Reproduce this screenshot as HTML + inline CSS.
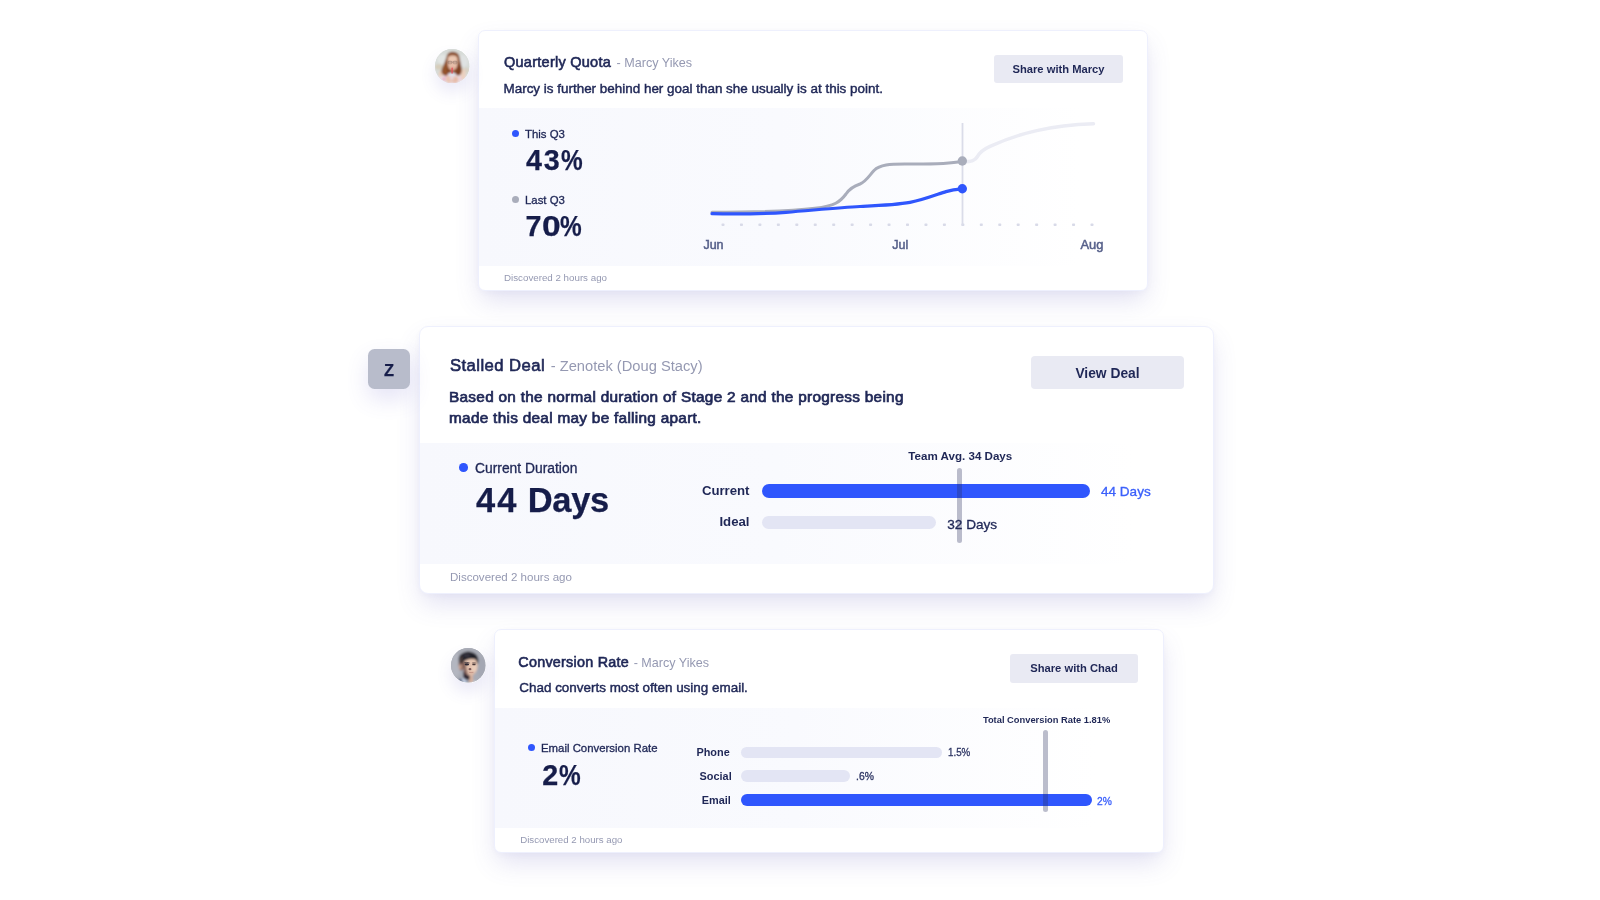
<!DOCTYPE html>
<html>
<head>
<meta charset="utf-8">
<title>Insights</title>
<style>
*{box-sizing:border-box;margin:0;padding:0}
html,body{width:1600px;height:900px;background:#fff;overflow:hidden;font-family:"Liberation Sans",sans-serif}
head,head *{font-family:"Liberation Sans",sans-serif}
body{font-family:"Liberation Sans",sans-serif;color:#1f2756;position:relative}
#stage{position:absolute;left:0;top:0;width:1600px;height:900px;will-change:transform}
.abs{position:absolute}
.card{position:absolute;background:#fff;border:1px solid #eef0fd;box-shadow:0 12px 26px -3px rgba(94,88,184,.185),0 2px 8px rgba(96,90,186,.04)}
.t{position:absolute;white-space:nowrap;line-height:1}
.b{font-weight:bold}
.semi{-webkit-text-stroke:.62px currentColor}
.semi2{-webkit-text-stroke:.5px currentColor}
.semi3{-webkit-text-stroke:.72px currentColor}
.med{-webkit-text-stroke:.45px currentColor}
.thin{-webkit-text-stroke:.15px currentColor}
.lbl{-webkit-text-stroke:.32px currentColor}
.hv{-webkit-text-stroke:.25px currentColor}
.btn{position:absolute;background:#e9eaf3;border-radius:3px;font-weight:bold;text-align:center;white-space:nowrap}
.dot{border-radius:50%}
.bar{border-radius:10px}
.blue{background:#2f56fd}
.light{background:#e3e5f4}
.vline{background:rgba(38,44,90,.31);border-radius:3px}
</style>
</head>
<body>
<div id="stage">
<!-- CARD 1 -->
<div class="card" style="left:478px;top:30px;width:670px;height:261px;border-radius:7px"></div>
<div class="abs " style="left:479px;top:108px;width:668px;height:158px;background:linear-gradient(90deg,#f7f8fd 0%,#f9fafe 45%,#ffffff 90%)"></div>
<div class="abs" style="left:435.3px;top:48.9px;width:34.4px;height:34.4px;border-radius:50%;box-shadow:0 9px 16px rgba(96,86,196,.13)"></div>
<svg class="abs" style="left:435.3px;top:48.9px" width="34.4" height="34.4" viewBox="0 0 100 100">
<defs>
<clipPath id="a1c"><circle cx="50" cy="50" r="50"/></clipPath>
<filter id="a1b" x="-10%" y="-10%" width="120%" height="120%"><feGaussianBlur stdDeviation="2.5"/></filter>
<filter id="a1s" x="-10%" y="-10%" width="120%" height="120%"><feGaussianBlur stdDeviation="1.6"/></filter>
</defs>
<g clip-path="url(#a1c)">
<rect width="100" height="100" fill="#d7dbd8"/>
<g filter="url(#a1b)">
<rect x="-5" y="-5" width="110" height="110" fill="#d7dbd8"/>
<ellipse cx="22" cy="30" rx="16" ry="14" fill="#e2e5e3"/>
<ellipse cx="82" cy="35" rx="14" ry="18" fill="#dfe2e2"/>
<ellipse cx="12" cy="52" rx="12" ry="8" fill="#d6ccb9"/>
<ellipse cx="90" cy="62" rx="10" ry="8" fill="#d9d2c4"/>
<!-- shirt / lower area -->
<path d="M8 78 Q25 70 50 72 Q78 70 94 80 L94 105 L8 105Z" fill="#ecdfe4"/>
<ellipse cx="26" cy="87" rx="4" ry="5" fill="#e6a0c2"/>
<ellipse cx="34" cy="80" rx="4" ry="3" fill="#eab0cc"/>
<ellipse cx="74" cy="86" rx="3" ry="4" fill="#ecc0d3"/>
<!-- right arm -->
<ellipse cx="82" cy="74" rx="7" ry="15" fill="#ecd0bf"/>
<ellipse cx="17" cy="72" rx="6" ry="9" fill="#e9cdb8"/>
<!-- hair -->
<path d="M34 22 Q36 8 52 8 Q69 9 71 24 Q74 40 77 52 Q81 66 72 76 Q62 80 58 70 L42 70 Q36 80 27 77 Q16 70 20 58 Q26 44 30 34Z" fill="#84451f"/>
<path d="M30 40 Q24 55 23 66 Q28 76 36 74 Q32 60 36 44Z" fill="#96552f"/>
<path d="M68 40 Q74 56 74 68 Q68 76 62 72 Q68 58 64 44Z" fill="#7a3f24"/>
<!-- face -->
<path d="M37 30 Q37 18 51 18 Q66 18 66 31 Q67 48 61 57 Q56 63 51 63 Q45 63 41 57 Q36 48 37 30Z" fill="#e7c0aa"/>
<ellipse cx="51" cy="28" rx="12" ry="7" fill="#ecc9b4"/>
<ellipse cx="51" cy="56" rx="6" ry="3.5" fill="#d99a8c"/>
<ellipse cx="44" cy="39.5" rx="4.5" ry="2.2" fill="#b98d7c"/><ellipse cx="58.5" cy="39.5" rx="4.5" ry="2.2" fill="#b98d7c"/><path d="M36 16 Q50 10 68 18 Q60 14 52 14 Q42 14 36 16Z" fill="#a86843"/>
<!-- cup lid -->
<ellipse cx="49" cy="74" rx="11" ry="6" fill="#dfe4f0"/>
<!-- hands -->
<ellipse cx="41" cy="88" rx="10" ry="10" fill="#e9c3b0"/>
<ellipse cx="58" cy="89" rx="10" ry="10" fill="#e6bba8"/>
<ellipse cx="49" cy="84" rx="6" ry="6" fill="#e8d6da"/>
</g>
<g filter="url(#a1s)">
<!-- glasses -->
<path d="M37 38 H65" stroke="#7a6560" stroke-width="1.3" opacity=".8" fill="none"/>
<rect x="38" y="35.5" width="11" height="7.5" rx="2.5" fill="none" stroke="#7a6560" stroke-width="1.2" opacity=".8"/>
<rect x="53" y="35.5" width="11" height="7.5" rx="2.5" fill="none" stroke="#7a6560" stroke-width="1.2" opacity=".8"/>
<!-- straw -->
<path d="M49.8 55.5 L49.6 70" stroke="#e9444f" stroke-width="3.3" stroke-linecap="round"/>
</g>
</g>
</svg>

<div class="t semi" style="top:54.73px;font-size:14.5px;left:504.00px;letter-spacing:.26px;">Quarterly Quota</div>
<div class="t " style="top:56.63px;font-size:12.6px;left:616.60px;color:#9599b2;">- Marcy Yikes</div>
<div class="t med" style="top:81.71px;font-size:13.45px;left:503.50px;">Marcy is further behind her goal than she usually is at this point.</div>
<div class="btn" style="left:994px;top:55px;width:129px;height:28px;font-size:11.2px;line-height:28px">Share with Marcy</div>
<div class="abs dot" style="left:511.7px;top:129.5px;width:7.3px;height:7.3px;background:#2f56fd"></div>
<div class="t lbl" style="top:128.65px;font-size:11.4px;left:525.00px;">This Q3</div>
<div class="t b hv" style="top:146.41px;font-size:28.7px;left:526.00px;color:#161d4a;"><span style="letter-spacing:1.9px">4</span><span style="letter-spacing:1.4px">3</span><span style="display:inline-block;transform:scaleX(.85);transform-origin:0 50%;margin-left:0px">%</span></div>
<div class="abs dot" style="left:511.7px;top:195.5px;width:7.3px;height:7.3px;background:#a9adbb"></div>
<div class="t lbl" style="top:194.85px;font-size:11.4px;left:525.00px;">Last Q3</div>
<div class="t b hv" style="top:211.71px;font-size:28.7px;left:525.60px;color:#161d4a;">7<span style="display:inline-block;transform:scaleX(1.17);transform-origin:0 50%">0</span><span style="display:inline-block;transform:scaleX(.85);transform-origin:0 50%;margin-left:2.7px">%</span></div>
<svg class="abs" style="left:690px;top:110px" width="440" height="160" viewBox="690 110 440 160">
<g fill="#d8dae8"><rect x="721.50" y="223.4" width="3" height="2.5" rx=".7"/><rect x="739.95" y="223.4" width="3" height="2.5" rx=".7"/><rect x="758.40" y="223.4" width="3" height="2.5" rx=".7"/><rect x="776.85" y="223.4" width="3" height="2.5" rx=".7"/><rect x="795.30" y="223.4" width="3" height="2.5" rx=".7"/><rect x="813.75" y="223.4" width="3" height="2.5" rx=".7"/><rect x="832.20" y="223.4" width="3" height="2.5" rx=".7"/><rect x="850.65" y="223.4" width="3" height="2.5" rx=".7"/><rect x="869.10" y="223.4" width="3" height="2.5" rx=".7"/><rect x="887.55" y="223.4" width="3" height="2.5" rx=".7"/><rect x="906.00" y="223.4" width="3" height="2.5" rx=".7"/><rect x="924.45" y="223.4" width="3" height="2.5" rx=".7"/><rect x="942.90" y="223.4" width="3" height="2.5" rx=".7"/><rect x="961.35" y="223.4" width="3" height="2.5" rx=".7"/><rect x="979.80" y="223.4" width="3" height="2.5" rx=".7"/><rect x="998.25" y="223.4" width="3" height="2.5" rx=".7"/><rect x="1016.70" y="223.4" width="3" height="2.5" rx=".7"/><rect x="1035.15" y="223.4" width="3" height="2.5" rx=".7"/><rect x="1053.60" y="223.4" width="3" height="2.5" rx=".7"/><rect x="1072.05" y="223.4" width="3" height="2.5" rx=".7"/><rect x="1090.50" y="223.4" width="3" height="2.5" rx=".7"/></g>
<line x1="962.5" y1="123" x2="962.5" y2="225.5" stroke="#dadce9" stroke-width="1.8"/>
<path d="M963 162 C972 161.5 975 160.5 977.5 156.5 C980 151.5 984 149 990 146.3 C1020 133 1050 125.2 1093.5 123.8" fill="none" stroke="#ebecf4" stroke-width="3.5" stroke-linecap="round"/>
<path d="M712 212.2 C750 212.2 790 211.4 815 208.3 C835 206 840 202 846 194 C850 188 854 186 860 184 C866 181.5 869 176 874 170.5 C880 164.5 890 164 905 164 C925 164 945 164.5 962 161.5" fill="none" stroke="#a9adbb" stroke-width="3" stroke-linecap="round"/>
<path d="M712 213.7 C745 214.2 765 213.8 786 212.3 C815 210 840 207.5 860 206.5 C885 205.3 897 204.8 910 202.4 C925 199.5 938 194 946 191.6 C952 189.8 957 189.2 962 188.8" fill="none" stroke="#2f56fd" stroke-width="3.2" stroke-linecap="round"/>
<circle cx="962.3" cy="161" r="4.7" fill="#a9adbb"/>
<circle cx="962.3" cy="188.7" r="4.7" fill="#2f56fd"/>
</svg>
<div class="t semi2" style="top:238.92px;font-size:12.5px;left:703.40px;color:#56608a;">Jun</div>
<div class="t semi2" style="top:238.92px;font-size:12.5px;left:892.20px;color:#56608a;">Jul</div>
<div class="t semi2" style="top:238.58px;font-size:12.9px;left:1080.40px;color:#56608a;">Aug</div>
<div class="t " style="top:273.05px;font-size:9.75px;left:504.00px;color:#9599b2;">Discovered 2 hours ago</div>
<!-- CARD 2 -->
<div class="card" style="left:419px;top:326px;width:795px;height:268px;border-radius:9px"></div>
<div class="abs " style="left:420px;top:443.3px;width:793px;height:120.7px;background:linear-gradient(90deg,#f7f8fd 0%,#f9fafe 45%,#ffffff 90%)"></div>
<div class="abs" style="left:368.4px;top:348.9px;width:41.2px;height:40.5px;border-radius:6.5px;background:#b8bccb;box-shadow:0 10px 22px rgba(96,86,196,.16)"></div>
<div class="t b hv" style="top:362.69px;font-size:15.6px;left:383.70px;color:#161d4a;letter-spacing:0;transform:scaleX(1.05);transform-origin:0 50%;">Z</div>
<div class="t semi" style="top:357.86px;font-size:16.7px;left:450.00px;letter-spacing:.42px;">Stalled Deal</div>
<div class="t " style="top:359.26px;font-size:14.7px;left:550.70px;color:#9599b2;">- Zenotek (Doug Stacy)</div>
<div class="t semi3" style="top:388.61px;font-size:15.35px;left:449.00px;letter-spacing:.29px;">Based on the normal duration of Stage 2 and the progress being</div>
<div class="t semi3" style="top:410.21px;font-size:15.35px;left:449.00px;letter-spacing:.29px;">made this deal may be falling apart.</div>
<div class="btn" style="left:1031px;top:356px;width:153px;height:33px;font-size:13.8px;line-height:35.2px;border-radius:4px">View Deal</div>
<div class="abs dot" style="left:459.0px;top:463.1px;width:8.6px;height:8.6px;background:#2f56fd"></div>
<div class="t lbl" style="top:462.08px;font-size:13.85px;left:475.00px;">Current Duration</div>
<div class="t b hv" style="top:482.50px;font-size:34.5px;left:476.00px;color:#161d4a;letter-spacing:-.3px;"><span style="letter-spacing:2px">44</span> Days</div>
<div class="t b" style="top:483.73px;font-size:13.2px;right:850.50px;">Current</div>
<div class="t b" style="top:515.23px;font-size:13.2px;right:850.50px;">Ideal</div>
<div class="abs bar blue" style="left:761.7px;top:484px;width:328.3px;height:13.6px;"></div>
<div class="abs bar light" style="left:761.7px;top:515.7px;width:174px;height:13.6px;"></div>
<div class="t lbl" style="top:485.43px;font-size:13.55px;left:1101.00px;color:#3b60fb;">44 Days</div>
<div class="t lbl" style="top:517.99px;font-size:13.6px;left:947.30px;">32 Days</div>
<div class="abs vline" style="left:956.8px;top:468.3px;width:5px;height:74.4px;"></div>
<div class="t b" style="top:449.88px;font-size:11.6px;left:908.30px;">Team Avg. 34 Days</div>
<div class="t " style="top:572.32px;font-size:11.55px;left:450.00px;color:#9599b2;">Discovered 2 hours ago</div>
<!-- CARD 3 -->
<div class="card" style="left:494px;top:629px;width:670px;height:224px;border-radius:7px"></div>
<div class="abs " style="left:495px;top:708px;width:668px;height:120px;background:linear-gradient(90deg,#f7f8fd 0%,#f9fafe 45%,#ffffff 90%)"></div>
<div class="abs" style="left:451.2px;top:648.1px;width:34.5px;height:34.5px;border-radius:50%;box-shadow:0 9px 16px rgba(96,86,196,.13)"></div>
<svg class="abs" style="left:451.2px;top:648.1px" width="34.5" height="34.5" viewBox="0 0 100 100">
<defs>
<clipPath id="a2c"><circle cx="50" cy="50" r="50"/></clipPath>
<filter id="a2b" x="-10%" y="-10%" width="120%" height="120%"><feGaussianBlur stdDeviation="2.5"/></filter>
<filter id="a2s" x="-10%" y="-10%" width="120%" height="120%"><feGaussianBlur stdDeviation="2.2"/></filter>
</defs>
<g clip-path="url(#a2c)">
<rect width="100" height="100" fill="#a9acb6"/>
<g filter="url(#a2b)">
<rect x="-5" y="-5" width="110" height="110" fill="#a9acb6"/>
<ellipse cx="14" cy="50" rx="14" ry="34" fill="#b3b6c0"/>
<ellipse cx="88" cy="55" rx="12" ry="30" fill="#a4a7b3"/>
<!-- shirt / jacket -->
<path d="M20 94 Q30 84 44 88 L48 104 L16 104Z" fill="#56647f"/>
<path d="M30 88 Q38 85 45 92 L45 104 L35 104Z" fill="#c3cde0"/>
<path d="M62 90 Q68 87 74 94 L74 104 L60 104Z" fill="#d5dbe6"/><path d="M64 84 Q72 86 76 94 L64 98Z" fill="#a9acb6"/>
<!-- neck lit -->
<path d="M52 76 L63 74 L64 100 L52 100Z" fill="#d6b09c"/>
<!-- neck shadow -->
<path d="M35 66 Q44 76 55 79 L53 93 Q42 93 36 86Z" fill="#2e2530"/>
<!-- ear / side -->
<path d="M23 36 Q20 50 25 63 Q30 67 35 62 L35 36Z" fill="#7b5a50"/>
<ellipse cx="27" cy="55" rx="4.5" ry="8" fill="#c49a87"/>
<!-- face -->
<path d="M33 38 Q34 30 50 32 Q70 29 77 36 Q79 52 75 64 Q69 77 59 81 Q48 80 40 72 Q34 60 33 38Z" fill="#e2c0ac"/>
<!-- left face shadow -->
<path d="M33 40 Q34 60 40 74 Q45 79 50 79 Q43 62 43 42Z" fill="#84625a"/>
<ellipse cx="67" cy="58" rx="8" ry="11" fill="#ebcdba"/>
<ellipse cx="59" cy="38" rx="15" ry="5" fill="#e8c8b3"/>
<ellipse cx="60" cy="73" rx="8" ry="5" fill="#deb9a5"/>
<!-- hair -->
<path d="M23 42 Q19 22 33 15 Q46 7 61 12 Q77 17 79 32 Q80 42 77 48 Q75 38 72 33 Q60 29 48 33 Q38 36 35 41 Q33 50 30 42Z" fill="#23222c"/>
<path d="M24 40 Q25 27 35 24 Q30 34 31 46Z" fill="#5a4740"/>
<ellipse cx="46" cy="22" rx="10" ry="5" fill="#35343f"/>
</g>
<g filter="url(#a2s)">
<ellipse cx="46" cy="47.5" rx="6.5" ry="3" fill="#2a2530"/>
<path d="M38.5 43 Q46 40 54 43.5" stroke="#2a2530" stroke-width="2" fill="none"/>
<ellipse cx="66.5" cy="47.5" rx="5" ry="2.6" fill="#4a3838"/>
<path d="M61 43.5 Q67 41.2 73 44" stroke="#4a3838" stroke-width="1.6" fill="none"/>
<ellipse cx="55" cy="61.5" rx="4.2" ry="3.2" fill="#7c5a57"/>
<path d="M52 70.5 Q58 72 65 70.5" stroke="#b58075" stroke-width="1.8" fill="none"/>
</g>
</g>
</svg>

<div class="t semi" style="top:654.85px;font-size:14.35px;left:518.30px;letter-spacing:.26px;">Conversion Rate</div>
<div class="t " style="top:656.68px;font-size:12.55px;left:633.70px;color:#9599b2;">- Marcy Yikes</div>
<div class="t med" style="top:681.42px;font-size:13.44px;left:519.30px;">Chad converts most often using email.</div>
<div class="btn" style="left:1009.7px;top:654.3px;width:128.8px;height:28.5px;font-size:11.2px;line-height:29.6px">Share with Chad</div>
<div class="abs dot" style="left:527.6px;top:743.5px;width:7px;height:7px;background:#2f56fd"></div>
<div class="t lbl" style="top:742.85px;font-size:11.4px;left:541.00px;">Email Conversion Rate</div>
<div class="t b hv" style="top:760.71px;font-size:28.7px;left:542.20px;color:#161d4a;"><span style="letter-spacing:1.2px">2</span><span style="display:inline-block;transform:scaleX(.85);transform-origin:0 50%;margin-left:0px">%</span></div>
<div class="t b" style="top:746.67px;font-size:10.9px;right:870.30px;">Phone</div>
<div class="t b" style="top:770.97px;font-size:10.9px;right:868.30px;">Social</div>
<div class="t b" style="top:795.17px;font-size:10.9px;right:869.20px;">Email</div>
<div class="abs bar light" style="left:741px;top:746.6px;width:200.5px;height:11.7px;"></div>
<div class="abs bar light" style="left:741px;top:770px;width:108.8px;height:11.7px;"></div>
<div class="abs bar blue" style="left:741px;top:793.7px;width:350.8px;height:12.1px;"></div>
<div class="t lbl" style="top:747.17px;font-size:11.5px;left:948.40px;color:#2d3563;transform:scaleX(.85);transform-origin:0 50%;">1.5%</div>
<div class="t lbl" style="top:770.67px;font-size:11.5px;left:855.60px;color:#2d3563;transform:scaleX(.9);transform-origin:0 50%;">.6%</div>
<div class="t lbl" style="top:795.18px;font-size:11.6px;left:1097.00px;color:#3b60fb;transform:scaleX(.885);transform-origin:0 50%;">2%</div>
<div class="abs vline" style="left:1043.3px;top:730px;width:4.8px;height:82.2px;"></div>
<div class="t b" style="top:716.09px;font-size:9.34px;left:982.90px;">Total Conversion Rate 1.81%</div>
<div class="t " style="top:834.79px;font-size:9.7px;left:520.20px;color:#9599b2;">Discovered 2 hours ago</div>
</div>
</body>
</html>
